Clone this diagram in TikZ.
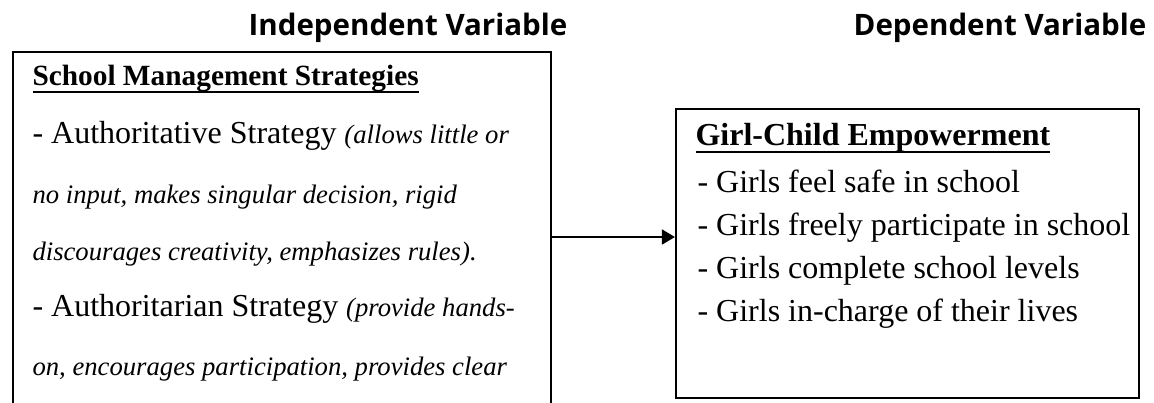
\documentclass[tikz,border=0pt]{standalone}
\usepackage{fontspec}
\setmainfont{Liberation Serif}
\newfontfamily\headfont{Open Sans}
\usetikzlibrary{arrows.meta, positioning, calc}
\newsavebox{\ulbox}
\newcommand{\uln}[1]{\sbox\ulbox{#1}\rlap{\rule[-3pt]{\wd\ulbox}{0.8pt}}\usebox\ulbox}
\newcommand{\aside}[1]{{\fontsize{10pt}{12pt}\selectfont\itshape #1}}

\begin{document}
\begin{tikzpicture}[x=0.375pt,y=-0.375pt,every node/.style={inner sep=0pt,anchor=base west},
    heading/.style={font=\headfont\bfseries\fontsize{11.07pt}{13pt}\selectfont,anchor=base},
    boxtitle/.style={font=\bfseries\fontsize{12pt}{14pt}\selectfont},
    sidetitle/.style={font=\bfseries\fontsize{11pt}{13pt}\selectfont},
    item/.style={font=\fontsize{12pt}{14pt}\selectfont},
    note/.style={font=\itshape\fontsize{10pt}{12pt}\selectfont},
    frame/.style={draw,line width=0.75pt,anchor=north west},
    link/.style={-{Triangle[length=4.9pt,width=5.5pt]},line width=1pt}]
    \useasboundingbox (0,0) rectangle (1154,402);
    \clip (0,0) rectangle (1154,402);
    \node[heading] (ivhead) at (408,35) {Independent Variable};
    \node[heading] (dvhead) at (1000,35) {Dependent Variable};
    \node[frame,minimum width=201.75pt,minimum height=150pt] (ivbox) at (12,51) {};
    \node[frame,minimum width=173.6pt,minimum height=108.4pt] (dvbox) at (675,108) {};
    \node[sidetitle] (ivtitle) at (32,85) {\uln{School Management Strategies}};
    \node[item] (auth1) at (32,143) {- Authoritative Strategy \aside{(allows little or}};
    \node[note] (auth2) at (32,203) {no input, makes singular decision, rigid};
    \node[note] (auth3) at (32,260) {discourages creativity, emphasizes rules).};
    \node[item] (auth4) at (32,316) {- Authoritarian Strategy \aside{(provide hands-}};
    \node[note] (auth5) at (32,375) {on, encourages participation, provides clear};
    \node[boxtitle] (dvtitle) at (695,145) {\uln{Girl-Child Empowerment}};
    \foreach \txt [count=\i] in {Girls feel safe in school, Girls freely participate in school, Girls complete school levels, Girls in-charge of their lives} {
        \node[item] (girls-\i) at (697,{149+43*\i}) {- \txt};
    }
    \coordinate (linky) at (0,237);
    \draw[link] (ivbox.east |- linky) -- (dvbox.west |- linky);
\end{tikzpicture}
\end{document}
